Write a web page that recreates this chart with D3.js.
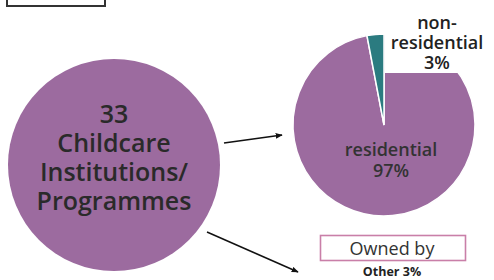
<!DOCTYPE html>
<html><head><meta charset="utf-8">
<script src="https://cdn.jsdelivr.net/npm/d3@7/dist/d3.min.js"></script>
<style>body{margin:0;background:#fff}svg{display:block}text{font-family:"Open Sans",sans-serif}</style>
</head><body>
<svg id="c" width="494" height="280"></svg>
<script>
const categories = ["residential", "non-residential"];
const values = [97, 3];
const totalLabel = ["33", "Childcare", "Institutions/", "Programmes"];
const ownedTitle = "Owned by";
const ownedLabel = "Other 3%";

const colors = ["#9c6b9f", "#2b7b80"];
const svg = d3.select("#c");

const defs = svg.append("defs");
defs.append("marker").attr("id","ah").attr("viewBox","0 0 10 10").attr("refX",9).attr("refY",5)
  .attr("markerWidth",7).attr("markerHeight",7).attr("orient","auto").attr("markerUnits","userSpaceOnUse")
  .append("path").attr("d","M0,1L10,5L0,9Z").attr("fill","#111");

// top-left box
svg.append("rect").attr("x",7).attr("y",-10).attr("width",98).attr("height",16)
  .attr("fill","none").attr("stroke","#333").attr("stroke-width",2);

// big circle
svg.append("circle").attr("cx",114).attr("cy",165).attr("r",106).attr("fill",colors[0]);
svg.append("g").selectAll("text").data(totalLabel).join("text")
  .attr("x",114).attr("y",(d,i)=>123+i*29).attr("text-anchor","middle")
  .attr("font-size",25).attr("font-weight",600).attr("fill","#2a2a2a").text(d=>d);

// pie
const cx = 384, cy = 125, r = 91;
const pie = d3.pie().sort(null).startAngle(0).endAngle(2*Math.PI);
const arc = d3.arc().innerRadius(0).outerRadius(r);
const g = svg.append("g").attr("transform",`translate(${cx},${cy})`);
g.selectAll("path").data(pie(values)).join("path")
  .attr("d",arc).attr("fill",(d,i)=>colors[i]).attr("stroke","#fff").attr("stroke-width",1.5);

// label background for non-residential
svg.append("rect").attr("x",cx+1).attr("y",0).attr("width",494-cx-1).attr("height",73).attr("fill","#fff");
const nrLines = ["non-", "residential", values[1] + "%"];
svg.append("g").selectAll("text").data(nrLines).join("text")
  .attr("x",437).attr("y",(d,i)=>29+i*20).attr("text-anchor","middle")
  .attr("font-size",18).attr("font-weight",600).attr("fill","#222").text(d=>d);

const rLines = [categories[0], values[0] + "%"];
svg.append("g").selectAll("text").data(rLines).join("text")
  .attr("x",391).attr("y",(d,i)=>156+i*21).attr("text-anchor","middle")
  .attr("font-size",18).attr("font-weight",600).attr("fill","#333").text(d=>d);

// arrows
svg.append("line").attr("x1",224).attr("y1",143).attr("x2",282).attr("y2",135)
  .attr("stroke","#111").attr("stroke-width",1.5).attr("marker-end","url(#ah)");
svg.append("line").attr("x1",207).attr("y1",232).attr("x2",298).attr("y2",272)
  .attr("stroke","#111").attr("stroke-width",1.5).attr("marker-end","url(#ah)");

// owned by box
svg.append("rect").attr("x",320.5).attr("y",235.5).attr("width",145).attr("height",25)
  .attr("fill","#fff").attr("stroke","#c97fa8").attr("stroke-width",1.6);
svg.append("text").attr("x",392).attr("y",254.5).attr("text-anchor","middle")
  .attr("font-size",18).attr("fill","#333").text(ownedTitle);
svg.append("text").attr("x",392).attr("y",276).attr("text-anchor","middle")
  .attr("font-size",12.5).attr("font-weight",700).attr("fill","#222").text(ownedLabel);
</script>
</body></html>
